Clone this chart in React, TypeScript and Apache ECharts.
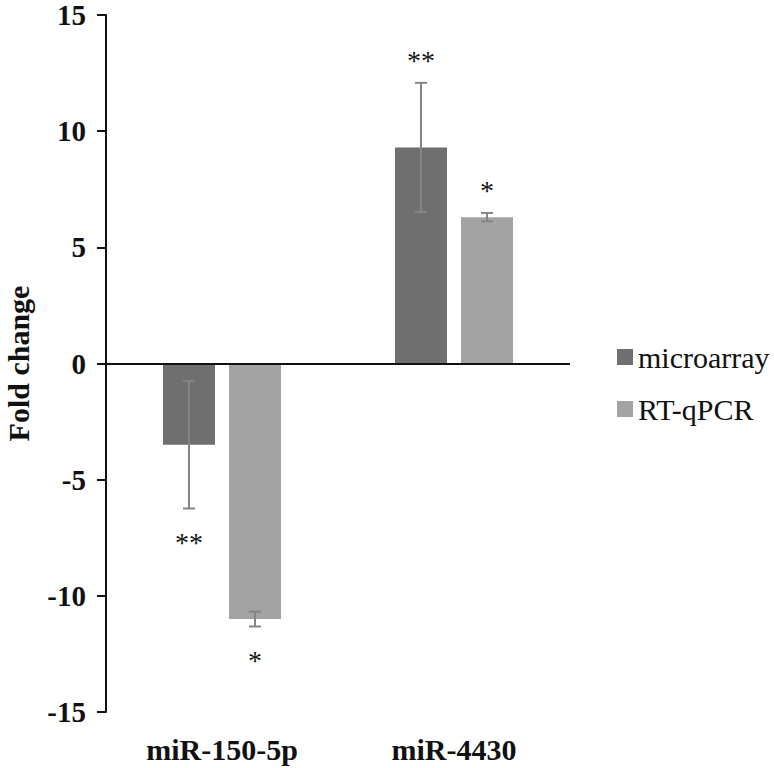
import React, { useEffect, useRef } from "react";
import * as echarts from "echarts";

const categories = ["miR-150-5p", "miR-4430"];
const seriesNames = ["microarray", "RT-qPCR"];
const microarray = [-3.5, 9.3];
const microarrayErr = [2.74, 2.78];
const microarraySig = ["**", "**"];
const rtqpcr = [-11.0, 6.3];
const rtqpcrErr = [0.32, 0.18];
const rtqpcrSig = ["*", "*"];
const yTicks = [-15, -10, -5, 0, 5, 10, 15];

const FONT = "'Liberation Serif', 'Times New Roman', serif";
const BAR_W = 52;
const BAR_GAP = 14;
const COLORS = ["#6f6f6f", "#a3a3a3"];

export default function App() {
  const ref = useRef<HTMLDivElement>(null);
  useEffect(() => {
    if (!ref.current) return;
    const chart = echarts.init(ref.current, null, { renderer: "svg" });
    const values = [microarray, rtqpcr];
    const errs = [microarrayErr, rtqpcrErr];
    const sigs = [microarraySig, rtqpcrSig];

    const errSeries = (s: number) => ({
      type: "custom",
      name: seriesNames[s] + " err",
      z: 5,
      data: categories.map((_, i) => [i, values[s][i], errs[s][i]]),
      renderItem: (params: any, api: any) => {
        const i = api.value(0);
        const v = api.value(1);
        const e = api.value(2);
        const off = (s === 0 ? -1 : 1) * (BAR_W + BAR_GAP) / 2;
        const hi = api.coord([i, v + e]);
        const lo = api.coord([i, v - e]);
        const x = hi[0] + off;
        const cap = 6;
        const st = { stroke: "#858585", lineWidth: 2 };
        const sig = sigs[s][params.dataIndex];
        const isPos = v >= 0;
        const ty = isPos ? hi[1] - 8 : lo[1] + 20;
        return {
          type: "group",
          children: [
            { type: "line", shape: { x1: x, y1: hi[1], x2: x, y2: lo[1] }, style: st },
            { type: "line", shape: { x1: x - cap, y1: hi[1], x2: x + cap, y2: hi[1] }, style: st },
            { type: "line", shape: { x1: x - cap, y1: lo[1], x2: x + cap, y2: lo[1] }, style: st },
            {
              type: "text",
              style: {
                x,
                y: ty,
                text: sig,
                fill: "#111",
                font: `28px ${FONT}`,
                align: "center",
                verticalAlign: isPos ? "bottom" : "top",
              },
            },
          ],
        };
      },
    });

    chart.setOption({
      animation: false,
      backgroundColor: "#fff",
      grid: {
        left: 106,
        right: 204,
        top: 15,
        bottom: 56,
        containLabel: false,
        outerBoundsMode: "none",
      },
      legend: {
        orient: "vertical",
        left: 612,
        top: 337,
        itemWidth: 16,
        itemHeight: 16,
        itemGap: 22,
        icon: "rect",
        data: seriesNames,
        textStyle: { fontFamily: FONT, fontSize: 30, color: "#111", lineHeight: 30 },
      },
      xAxis: {
        type: "category",
        data: categories,
        axisLine: { show: false, onZero: false },
        axisTick: { show: false },
        axisLabel: {
          margin: 24,
          fontFamily: FONT,
          fontSize: 30,
          fontWeight: "bold",
          color: "#111",
          lineHeight: 26,
        },
      },
      yAxis: {
        type: "value",
        min: -15,
        max: 15,
        interval: 5,
        name: "Fold change",
        nameLocation: "middle",
        nameGap: 75,
        nameTextStyle: {
          fontFamily: FONT,
          fontSize: 30,
          fontWeight: "bold",
          color: "#111",
          lineHeight: 26,
        },
        axisLine: { show: true, lineStyle: { color: "#111", width: 2 } },
        axisTick: { show: true, length: 9, lineStyle: { color: "#111", width: 2 } },
        splitLine: { show: false },
        axisLabel: {
          margin: 20,
          fontFamily: FONT,
          fontSize: 29,
          fontWeight: "bold",
          color: "#111",
          lineHeight: 24,
          formatter: (v: number) => (yTicks.includes(v) ? String(v) : ""),
        },
      },
      series: [
        {
          type: "bar",
          name: seriesNames[0],
          data: microarray,
          barWidth: BAR_W,
          barGap: `${(BAR_GAP / BAR_W) * 100}%`,
          itemStyle: { color: COLORS[0] },
          markLine: {
            silent: true,
            symbol: "none",
            label: { show: false },
            lineStyle: { color: "#111", width: 2, type: "solid" },
            data: [{ yAxis: 0 }],
          },
        },
        {
          type: "bar",
          name: seriesNames[1],
          data: rtqpcr,
          barWidth: BAR_W,
          barGap: `${(BAR_GAP / BAR_W) * 100}%`,
          itemStyle: { color: COLORS[1] },
        },
        errSeries(0),
        errSeries(1),
      ],
    });
    return () => chart.dispose();
  }, []);
  return (
    <div
      ref={ref}
      style={{ position: "absolute", left: 0, top: 0, width: 774, height: 768 }}
    />
  );
}
